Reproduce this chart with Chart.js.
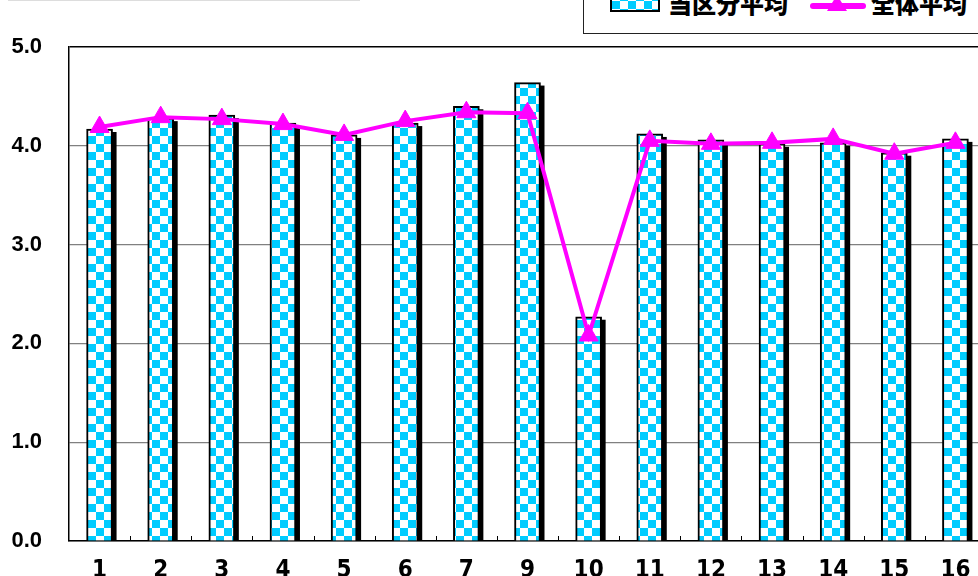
<!DOCTYPE html>
<html>
<head>
<meta charset="utf-8">
<script src="https://cdn.jsdelivr.net/npm/chart.js@4.4.1/dist/chart.umd.min.js"></script>
<style>
  html, body { margin: 0; padding: 0; background: #fff; overflow: hidden; }
  #wrap { position: relative; width: 1000px; height: 576px; }
  #topline { position: absolute; left: 8px; top: 0; width: 352px; height: 1px; background: #ddd; }
  #legend {
    position: absolute; left: 583px; top: -20px; width: 420px; height: 54px;
    border: 1.5px solid #222; background: #fff; box-sizing: border-box;
    font-family: 'Noto Sans CJK JP', sans-serif; font-weight: 900; font-size: 24px; color: #000;
  }
  #legend .item { position: absolute; top: 7px; height: 30px; line-height: 30px; white-space: nowrap; }
  #legend .swatch {
    position: absolute; left: 26px; top: 10px; width: 50px; height: 21px; box-sizing: border-box;
    border: 2px solid #000;
    background: repeating-conic-gradient(#00ccff 0 25%, #fff 0 50%) 0 0 / 16px 16px;
  }
  #legend .lline { position: absolute; left: 226px; top: 22px; width: 56px; height: 6px; background: #ff00ff; border-radius: 3px; }
  #legend .ltri {
    position: absolute; left: 243px; top: 14px; width: 0; height: 0;
    border-left: 10px solid transparent; border-right: 10px solid transparent; border-bottom: 16px solid #ff00ff;
  }
</style>
</head>
<body>
<div id="wrap">
  <div id="topline"></div>
  <canvas id="chart" width="1000" height="576"></canvas>
  <div id="legend">
    <div class="swatch"></div>
    <div class="item" style="left:84px;">当区分平均</div>
    <div class="lline"></div>
    <div class="ltri"></div>
    <div class="item" style="left:287px;">全体平均</div>
  </div>
</div>
<script>
const categories = ['1', '2', '3', '4', '5', '6', '7', '9', '10', '11', '12', '13', '14', '15', '16'];
const sectionAvg = [4.17, 4.28, 4.31, 4.23, 4.11, 4.23, 4.40, 4.64, 2.27, 4.12, 4.06, 4.02, 4.03, 3.93, 4.07];
const overallAvg = [4.19, 4.29, 4.27, 4.22, 4.11, 4.25, 4.34, 4.33, 2.08, 4.05, 4.02, 4.03, 4.07, 3.92, 4.03];
const yTicks = [0, 1, 2, 3, 4, 5];

const CYAN = '#00ccff';
const MAGENTA = '#ff00ff';

function checker() {
  const c = document.createElement('canvas');
  c.width = 16; c.height = 16;
  const g = c.getContext('2d');
  g.fillStyle = '#fff';
  g.fillRect(0, 0, 16, 16);
  g.fillStyle = CYAN;
  g.fillRect(0, 0, 8, 8);
  g.fillRect(8, 8, 8, 8);
  return document.getElementById('chart').getContext('2d').createPattern(c, 'repeat');
}

// black drop shadow behind the bars, taken from the bar elements
const barShadow = {
  id: 'barShadow',
  beforeDatasetDraw(chart, args) {
    if (args.meta.type !== 'bar') return;
    const ctx = chart.ctx;
    const area = chart.chartArea;
    ctx.save();
    ctx.beginPath();
    ctx.rect(area.left, area.top, area.right - area.left, area.bottom - area.top);
    ctx.clip();
    ctx.fillStyle = '#000';
    args.meta.data.forEach(bar => {
      const w = bar.width;
      ctx.fillRect(bar.x - w / 2 + 4, bar.y + 3, w, bar.base - bar.y);
    });
    ctx.restore();
  }
};

// small inward tick marks between categories on the x axis
const innerTicks = {
  id: 'innerTicks',
  afterDatasetsDraw(chart) {
    const x = chart.scales.x;
    const ctx = chart.ctx;
    const n = categories.length;
    const step = (x.right - x.left) / n;
    ctx.save();
    ctx.strokeStyle = '#000';
    ctx.lineWidth = 1;
    ctx.beginPath();
    for (let i = 1; i < n; i++) {
      const px = Math.round(x.left + i * step) + 0.5;
      ctx.moveTo(px, x.top);
      ctx.lineTo(px, x.top - 5);
    }
    ctx.stroke();
    ctx.restore();
  }
};

new Chart(document.getElementById('chart'), {
  type: 'bar',
  data: {
    labels: categories,
    datasets: [
      {
        type: 'line',
        label: '全体平均',
        data: overallAvg,
        borderColor: MAGENTA,
        backgroundColor: MAGENTA,
        borderWidth: 4,
        pointStyle: 'triangle',
        pointRadius: 11,
        pointBorderWidth: 1,
        pointBackgroundColor: MAGENTA,
        pointBorderColor: MAGENTA,
        tension: 0,
        order: 0
      },
      {
        label: '当区分平均',
        data: sectionAvg,
        backgroundColor: checker(),
        borderColor: '#000',
        borderWidth: 2,
        barThickness: 26,
        clip: 0,
        order: 1
      }
    ]
  },
  options: {
    responsive: false,
    animation: false,
    events: [],
    layout: { padding: { top: 47, right: 14, left: 0, bottom: 0 } },
    plugins: { legend: { display: false }, tooltip: { enabled: false } },
    scales: {
      x: {
        offset: true,
        grid: { display: false, drawTicks: false },
        border: { color: '#000', width: 1.5 },
        ticks: {
          color: '#000',
          padding: 15,
          font: { family: "'Liberation Sans Narrow', 'DejaVu Sans Condensed', 'Liberation Sans'", size: 24, weight: 'bold' }
        },
        afterFit(scale) { scale.height = 35; }
      },
      y: {
        min: 0,
        max: 5,
        afterBuildTicks(scale) { scale.ticks = yTicks.map(v => ({ value: v })); },
        grid: {
          drawTicks: false,
          color: ctx => (ctx.tick && ctx.tick.value === 5 ? '#000' : '#808080'),
          lineWidth: ctx => (ctx.tick && ctx.tick.value === 5 ? 1.5 : 1.2)
        },
        border: { color: '#000', width: 1.5 },
        ticks: {
          color: '#000',
          padding: 27,
          callback: v => v.toFixed(1),
          font: { family: "'Liberation Sans', Arial, sans-serif", size: 22, weight: 'bold' }
        },
        afterFit(scale) {
          scale.width = 69;
          scale.paddingTop = 0;
          scale.paddingBottom = 0;
        }
      }
    }
  },
  plugins: [barShadow, innerTicks]
});
</script>
</body>
</html>
